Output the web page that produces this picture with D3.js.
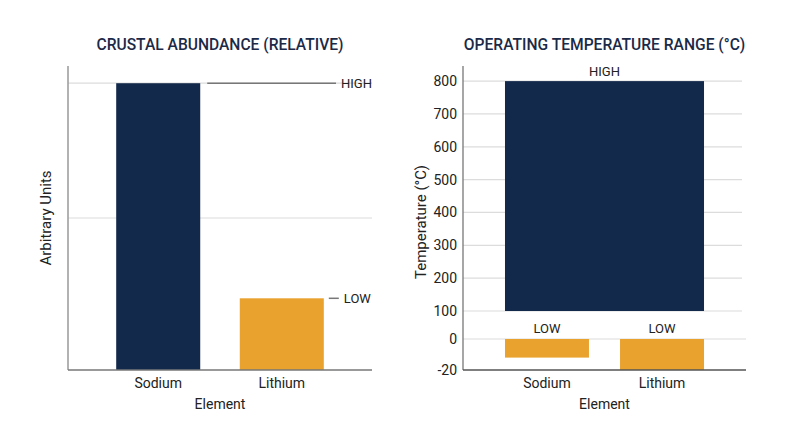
<!DOCTYPE html>
<html>
<head>
<meta charset="utf-8">
<script src="https://cdn.jsdelivr.net/npm/d3@7.9.0/dist/d3.min.js"></script>
<style>
  body { margin: 0; background: #fff; }
  svg { font-family: Roboto, "Noto Sans", sans-serif; }
  .title { font-size: 15.6px; font-weight: 500; fill: #1b2a47; }
  .lbl { font-size: 14px; fill: #222; }
  .ylbl { font-size: 15px; fill: #222; }
  .tick-lbl { font-size: 14px; fill: #222; }
  .note { font-size: 13px; fill: #222; }
</style>
</head>
<body>
<div id="chart"></div>
<script>
// data
const elements = ["Sodium", "Lithium"];
const abundanceLevel = ["HIGH", "LOW"];
const abundanceValues = [100, 25];      // arbitrary units
const abundanceMax = 106;
const tempHighRange = [100, 800];       // shared HIGH span (°C)
const tempLowValues = [-12, -20];       // LOW per element (°C)
const tempTicks = [-20, 0, 100, 200, 300, 400, 500, 600, 700, 800];

const navy = "#13294b";
const orange = "#e9a22e";

const svg = d3.select("#chart").append("svg")
  .attr("width", 800)
  .attr("height", 447);

const plotTop = 66, plotBottom = 370;

// ---------- left: crustal abundance ----------
const L = { x0: 68, x1: 372 };
const xA = d3.scaleBand().domain(elements).range([L.x0, L.x1])
  .paddingInner(0.32).paddingOuter(0.39);
const yA = d3.scaleLinear().domain([0, abundanceMax]).range([plotBottom, plotTop]);

const gl = svg.append("g");

gl.append("text").attr("class", "title")
  .attr("x", (L.x0 + L.x1) / 2).attr("y", 50)
  .attr("text-anchor", "middle")
  .text("CRUSTAL ABUNDANCE (RELATIVE)");

// gridlines: midpoint + HIGH level
[abundanceMax / 2, abundanceValues[0]].forEach(v => {
  gl.append("line")
    .attr("x1", L.x0).attr("x2", L.x1)
    .attr("y1", yA(v)).attr("y2", yA(v))
    .attr("stroke", "#dcdcdc").attr("stroke-width", 1.2);
});

gl.selectAll("rect.bar")
  .data(elements)
  .join("rect")
    .attr("class", "bar")
    .attr("x", d => xA(d))
    .attr("width", xA.bandwidth())
    .attr("y", (d, i) => yA(abundanceValues[i]))
    .attr("height", (d, i) => yA(0) - yA(abundanceValues[i]))
    .attr("fill", (d, i) => i === 0 ? navy : orange);

// HIGH annotation
const hx = xA("Sodium") + xA.bandwidth() + 7;
gl.append("line")
  .attr("x1", hx).attr("x2", 336)
  .attr("y1", yA(abundanceValues[0])).attr("y2", yA(abundanceValues[0]))
  .attr("stroke", "#777").attr("stroke-width", 1.5);
gl.append("text").attr("class", "note")
  .attr("x", 341).attr("y", yA(abundanceValues[0]))
  .attr("dominant-baseline", "central")
  .text(abundanceLevel[0]);

// LOW annotation
const lx = xA("Lithium") + xA.bandwidth() + 5;
gl.append("line")
  .attr("x1", lx).attr("x2", lx + 10)
  .attr("y1", yA(abundanceValues[1])).attr("y2", yA(abundanceValues[1]))
  .attr("stroke", "#777").attr("stroke-width", 1.5);
gl.append("text").attr("class", "note")
  .attr("x", lx + 15).attr("y", yA(abundanceValues[1]))
  .attr("dominant-baseline", "central")
  .text(abundanceLevel[1]);

// axes
gl.append("line")
  .attr("x1", L.x0).attr("x2", L.x0).attr("y1", plotTop).attr("y2", plotBottom)
  .attr("stroke", "#999").attr("stroke-width", 1.5);
gl.append("line")
  .attr("x1", L.x0).attr("x2", L.x1).attr("y1", plotBottom).attr("y2", plotBottom)
  .attr("stroke", "#777").attr("stroke-width", 1.5);

gl.selectAll("text.cat")
  .data(elements)
  .join("text")
    .attr("class", "cat lbl")
    .attr("x", d => xA(d) + xA.bandwidth() / 2)
    .attr("y", 388)
    .attr("text-anchor", "middle")
    .text(d => d);

gl.append("text").attr("class", "lbl")
  .attr("x", (L.x0 + L.x1) / 2).attr("y", 409)
  .attr("text-anchor", "middle")
  .text("Element");

gl.append("text").attr("class", "ylbl")
  .attr("transform", `translate(46, ${(plotTop + plotBottom) / 2}) rotate(-90)`)
  .attr("text-anchor", "middle")
  .attr("dominant-baseline", "central")
  .text("Arbitrary Units");

// ---------- right: operating temperature ----------
const R = { x0: 463, x1: 746 };
const xT = d3.scaleBand().domain(elements).range([R.x0, R.x1])
  .paddingInner(0.27).paddingOuter(0.365);
// broken axis: lower segment (-20..0), gap (0..100), upper segment (100..800)
const yT = d3.scaleLinear()
  .domain([-20, 0, 100, 846])
  .range([plotBottom, 339, 311, plotTop]);

const gr = svg.append("g");

gr.append("text").attr("class", "title")
  .attr("x", (R.x0 + R.x1) / 2).attr("y", 50)
  .attr("text-anchor", "middle")
  .text("OPERATING TEMPERATURE RANGE (°C)");

// gridlines
gr.selectAll("line.grid")
  .data(tempTicks.filter(t => t > -20))
  .join("line")
    .attr("class", "grid")
    .attr("x1", R.x0).attr("x2", d => d === 0 ? R.x1 : R.x1 - 4)
    .attr("y1", d => yT(d)).attr("y2", d => yT(d))
    .attr("stroke", "#dcdcdc").attr("stroke-width", 1.2);

// HIGH span bar
const hx0 = xT(elements[0]);
const hx1 = xT(elements[elements.length - 1]) + xT.bandwidth();
gr.append("rect")
  .attr("x", hx0).attr("width", hx1 - hx0)
  .attr("y", yT(tempHighRange[1]))
  .attr("height", yT(tempHighRange[0]) - yT(tempHighRange[1]))
  .attr("fill", navy);
gr.append("text").attr("class", "note")
  .attr("x", (hx0 + hx1) / 2).attr("y", yT(tempHighRange[1]) - 5)
  .attr("text-anchor", "middle")
  .text("HIGH");

// LOW bars
gr.selectAll("rect.low")
  .data(elements)
  .join("rect")
    .attr("class", "low")
    .attr("x", d => xT(d))
    .attr("width", xT.bandwidth())
    .attr("y", yT(0))
    .attr("height", (d, i) => yT(tempLowValues[i]) - yT(0))
    .attr("fill", orange);
gr.selectAll("text.lowlbl")
  .data(elements)
  .join("text")
    .attr("class", "lowlbl note")
    .attr("x", d => xT(d) + xT.bandwidth() / 2)
    .attr("y", yT(0) - 6)
    .attr("text-anchor", "middle")
    .text("LOW");

// axes
gr.append("line")
  .attr("x1", R.x0).attr("x2", R.x0).attr("y1", plotTop).attr("y2", plotBottom)
  .attr("stroke", "#777").attr("stroke-width", 1.3);
gr.append("line")
  .attr("x1", R.x0).attr("x2", R.x1).attr("y1", plotBottom).attr("y2", plotBottom)
  .attr("stroke", "#555").attr("stroke-width", 1.5);

gr.selectAll("text.tick-lbl")
  .data(tempTicks)
  .join("text")
    .attr("class", "tick-lbl")
    .attr("x", R.x0 - 6)
    .attr("y", d => yT(d))
    .attr("text-anchor", "end")
    .attr("dominant-baseline", "central")
    .text(d => d);

gr.selectAll("text.cat")
  .data(elements)
  .join("text")
    .attr("class", "cat lbl")
    .attr("x", d => xT(d) + xT.bandwidth() / 2)
    .attr("y", 388)
    .attr("text-anchor", "middle")
    .text(d => d);

gr.append("text").attr("class", "lbl")
  .attr("x", (R.x0 + R.x1) / 2).attr("y", 409)
  .attr("text-anchor", "middle")
  .text("Element");

gr.append("text").attr("class", "ylbl")
  .attr("transform", `translate(421, ${(plotTop + plotBottom) / 2 + 4}) rotate(-90)`)
  .attr("text-anchor", "middle")
  .attr("dominant-baseline", "central")
  .text("Temperature (°C)");
</script>
</body>
</html>
